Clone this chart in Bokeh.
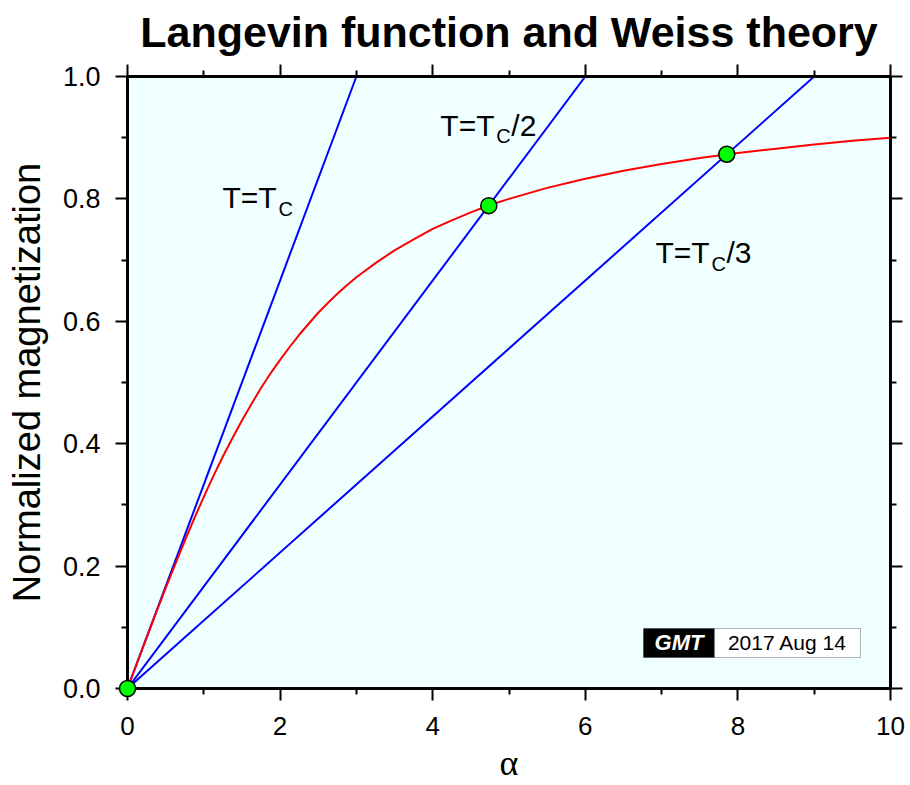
from bokeh.plotting import figure
from bokeh.models import (Range1d, LinearAxis, FixedTicker, Label, BoxAnnotation,
                          PrintfTickFormatter, CustomLabelingPolicy)
from bokeh.embed import file_html
from bokeh.resources import INLINE

# Langevin function L(alpha), sampled along the curve
alpha = [0.0, 0.25, 0.375, 0.5, 0.625, 0.75, 0.875, 1.0, 1.125, 1.25, 1.375, 1.5, 1.625,
         1.75, 1.875, 2.0, 2.125, 2.25, 2.375, 2.5, 2.625, 2.75, 2.875, 3.0, 3.25, 3.5,
         3.75, 4.0, 4.25, 4.5, 4.75, 5.0, 5.5, 6.0, 6.5, 7.0, 7.5, 8.0, 8.5, 9.0, 9.5, 10.0]
langevin = [0.0, 0.083, 0.124, 0.164, 0.203, 0.241, 0.278, 0.313, 0.347, 0.379, 0.409, 0.438,
            0.465, 0.491, 0.515, 0.537, 0.558, 0.578, 0.596, 0.614, 0.630, 0.645, 0.659,
            0.672, 0.695, 0.716, 0.734, 0.751, 0.765, 0.778, 0.790, 0.800, 0.818, 0.833,
            0.846, 0.857, 0.867, 0.875, 0.882, 0.889, 0.895, 0.900]

# Weiss molecular-field lines: from the origin to where they reach M = 1
weiss_alpha_end = [3.0, 6.0, 9.0]
weiss_m_end = [1.0, 1.0, 1.0]
weiss_suffix = ["", "/2", "/3"]

# Self-consistent solutions (line meets curve)
sol_alpha = [0.0, 4.735, 7.854]
sol_m = [0.0, 0.789, 0.873]

# Axis ticks
x_ticks = [0, 2, 4, 6, 8, 10]
x_minor = [1, 3, 5, 7, 9]
y_ticks = [0.0, 0.2, 0.4, 0.6, 0.8, 1.0]
y_minor = [0.1, 0.3, 0.5, 0.7, 0.9]

stamp_text = "2017 Aug 14"

FONT = "Liberation Sans"

p = figure(width=910, height=785,
           x_range=Range1d(0, 10), y_range=Range1d(0, 1),
           output_backend="svg", toolbar_location=None,
           min_border_left=127, min_border_right=20,
           min_border_top=76, min_border_bottom=97,
           background_fill_color="#f0ffff", border_fill_color="white",
           outline_line_color="black", outline_line_width=3)
p.grid.visible = False

p.title.text = "Langevin function and Weiss theory"
p.title.align = "center"
p.title.text_font = FONT
p.title.text_font_size = "43px"
p.title.text_font_style = "bold"
p.title.text_color = "black"
p.title.standoff = 10

# secondary (top/right) axes carry ticks only
no_labels = CustomLabelingPolicy(code="""
    const all = [...indices]
    for (const i of all) indices.unset(i)
    return indices
""")


def style_axis(ax, ticks, minor, label_size):
    ax.ticker = FixedTicker(ticks=ticks, minor_ticks=minor)
    ax.axis_line_width = 3
    ax.axis_line_color = "black"
    ax.major_tick_in = 0
    ax.major_tick_out = 12
    ax.minor_tick_in = 0
    ax.minor_tick_out = 6
    ax.major_tick_line_width = 2
    ax.minor_tick_line_width = 2
    ax.major_label_text_font = FONT
    ax.major_label_text_color = "black"
    if label_size:
        ax.major_label_text_font_size = label_size
    else:
        ax.major_label_text_font_size = "1px"
        ax.major_label_policy = no_labels
        ax.major_label_standoff = 0


style_axis(p.xaxis[0], x_ticks, x_minor, "26px")
style_axis(p.yaxis[0], y_ticks, y_minor, "27px")
p.yaxis[0].formatter = PrintfTickFormatter(format="%.1f")
p.xaxis[0].major_label_standoff = 16
p.yaxis[0].major_label_standoff = 15

p.xaxis[0].axis_label = "α"
p.xaxis[0].axis_label_text_font = "Liberation Serif"
p.xaxis[0].axis_label_text_font_size = "36px"
p.xaxis[0].axis_label_text_font_style = "normal"
p.xaxis[0].axis_label_text_color = "black"
p.xaxis[0].axis_label_text_baseline = "alphabetic"
p.xaxis[0].axis_label_standoff = 5

p.yaxis[0].axis_label = "Normalized magnetization"
p.yaxis[0].axis_label_text_font = FONT
p.yaxis[0].axis_label_text_font_size = "38px"
p.yaxis[0].axis_label_text_font_style = "normal"
p.yaxis[0].axis_label_text_color = "black"
p.yaxis[0].axis_label_standoff = 12

top_axis = LinearAxis()
style_axis(top_axis, x_ticks, x_minor, None)
p.add_layout(top_axis, "above")
right_axis = LinearAxis()
style_axis(right_axis, y_ticks, y_minor, None)
p.add_layout(right_axis, "right")

# Weiss lines
for xe, ye in zip(weiss_alpha_end, weiss_m_end):
    p.line([0, xe], [0, ye], line_color="#0000ff", line_width=2)

# Langevin curve
p.line(alpha, langevin, line_color="#ff0000", line_width=2)

# Solutions
p.scatter(sol_alpha, sol_m, size=16, fill_color="#00ff00",
          line_color="black", line_width=1.5, level="overlay")

# Line labels: "T=T" + subscript "C" + suffix
label_pos = [(1.245, 0.802), (4.10, 0.920), (6.92, 0.712)]
for (lx, ly), suf in zip(label_pos, weiss_suffix):
    p.add_layout(Label(x=lx, y=ly, text="T=T", text_font=FONT, text_font_size="30px",
                       text_baseline="alphabetic", text_color="black"))
    p.add_layout(Label(x=lx, y=ly, x_offset=56, y_offset=-11, text="C", text_font=FONT,
                       text_font_size="20px", text_baseline="alphabetic", text_color="black"))
    if suf:
        p.add_layout(Label(x=lx, y=ly, x_offset=71, text=suf, text_font=FONT,
                           text_font_size="30px", text_baseline="alphabetic",
                           text_color="black"))

# Time stamp box in the lower right corner
p.add_layout(BoxAnnotation(left=6.763, right=7.693, bottom=0.0507, top=0.098,
                           fill_color="black", fill_alpha=1.0, line_color="black",
                           line_width=1, level="overlay"))
p.add_layout(BoxAnnotation(left=7.693, right=9.607, bottom=0.0507, top=0.098,
                           fill_color="white", fill_alpha=1.0, line_color="black",
                           line_width=1, level="overlay"))
p.add_layout(Label(x=7.228, y=0.0745, text="GMT", text_font=FONT, text_font_size="22px",
                   text_font_style="bold italic", text_color="white",
                   text_align="center", text_baseline="middle", level="overlay"))
p.add_layout(Label(x=8.65, y=0.0745, text=stamp_text, text_font=FONT, text_font_size="21px",
                   text_color="black", text_align="center", text_baseline="middle",
                   level="overlay"))

open("out.html", "w").write(file_html(p, INLINE))
